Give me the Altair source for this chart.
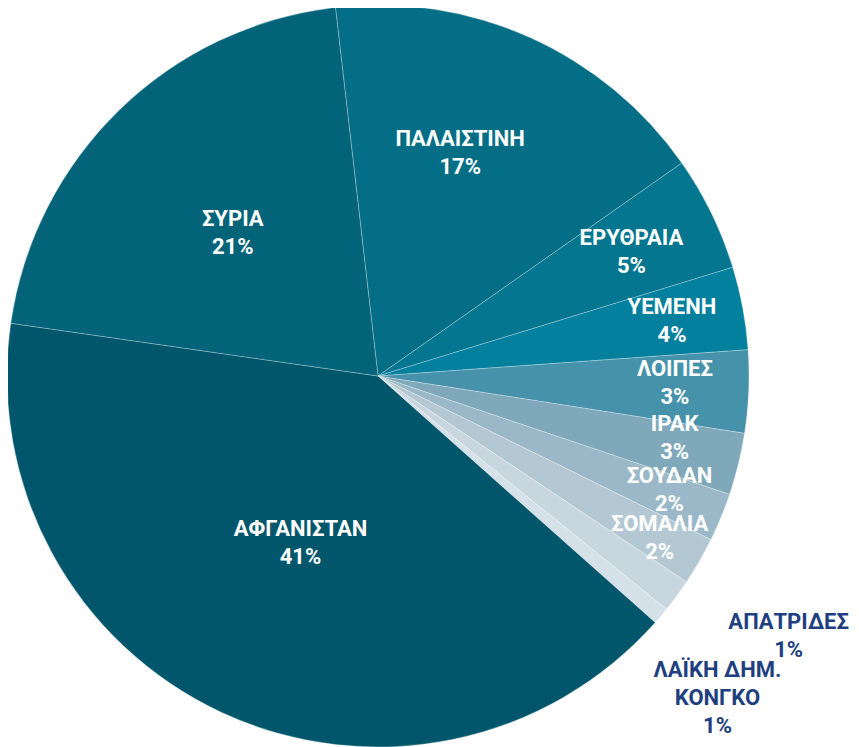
import altair as alt
import pandas as pd

countries = ["ΠΑΛΑΙΣΤΙΝΗ", "ΕΡΥΘΡΑΙΑ", "ΥΕΜΕΝΗ", "ΛΟΙΠΕΣ", "ΙΡΑΚ", "ΣΟΥΔΑΝ",
             "ΣΟΜΑΛΙΑ", "ΑΠΑΤΡΙΔΕΣ", "ΛΑΪΚΗ ΔΗΜ.\nΚΟΝΓΚΟ", "ΑΦΓΑΝΙΣΤΑΝ", "ΣΥΡΙΑ"]
shares = [17.1, 5.0, 3.6, 3.6, 2.7, 2.1, 2.1, 1.45, 0.75, 40.7, 20.9]
pct_labels = ["17%", "5%", "4%", "3%", "3%", "2%", "2%", "1%", "1%", "41%", "21%"]
colors = ["#036E86", "#04768F", "#02809D", "#4592AA", "#7FA8BB", "#9AB8C7",
          "#B4C8D3", "#C8D7DF", "#D5E1E8", "#02566B", "#036378"]
label_colors = ["white"] * 7 + ["#1F3F80", "#1F3F80"] + ["white", "white"]
label_radius = [238, 282, 299, 297, 303, 313, 325, 486, 468, 184, 204]
label_shift = [-4, 0, 0, -1, -2, -1, 0, -4.0, 3.2, 0, -1.2]  # degrees

CX, CY, R = 370, 368, 371
START = -0.115

df = pd.DataFrame({
    "country": countries,
    "share": shares,
    "order": list(range(len(countries))),
    "label": [f"{c}\n{p}" for c, p in zip(countries, pct_labels)],
    "color": colors,
    "lcolor": label_colors,
    "lr": label_radius,
    "ls": label_shift,
    "nl": [c.count("\n") + 1 for c in countries],
})

theta_scale = alt.Scale(range=[START, START + 6.283185307])

pie = alt.Chart(df).mark_arc(stroke="white", strokeWidth=0.6, strokeOpacity=0.45).encode(
    theta=alt.Theta("share:Q", stack=True, scale=theta_scale),
    order=alt.Order("order:Q"),
    x=alt.value(CX),
    y=alt.value(CY),
    radius=alt.value(R),
    color=alt.Color("color:N", scale=None),
)

LH = 28
text = alt.Chart(df).transform_joinaggregate(
    total="sum(share)"
).transform_window(
    cum="sum(share)", sort=[alt.SortField("order")], frame=[None, 0]
).transform_calculate(
    mid=f"(datum.cum - datum.share/2)/datum.total*2*PI + {START} + datum.ls*PI/180"
).transform_calculate(
    px=f"{CX} + datum.lr*sin(datum.mid)",
    py=f"{CY} - datum.lr*cos(datum.mid) - datum.nl*{LH}/2",
).mark_text(
    font="Roboto", fontWeight="bold", fontSize=22, lineBreak="\n",
    lineHeight=LH, align="center", baseline="middle",
).encode(
    x=alt.X("px:Q", scale=None),
    y=alt.Y("py:Q", scale=None),
    text="label:N",
    color=alt.Color("lcolor:N", scale=None),
)

chart = alt.layer(pie, text).properties(
    width=843, height=739, padding=0, autosize=alt.AutoSizeParams(type="none")
).configure_view(stroke=None)

chart.save("out.html", embed_options={"renderer": "svg", "actions": False})
